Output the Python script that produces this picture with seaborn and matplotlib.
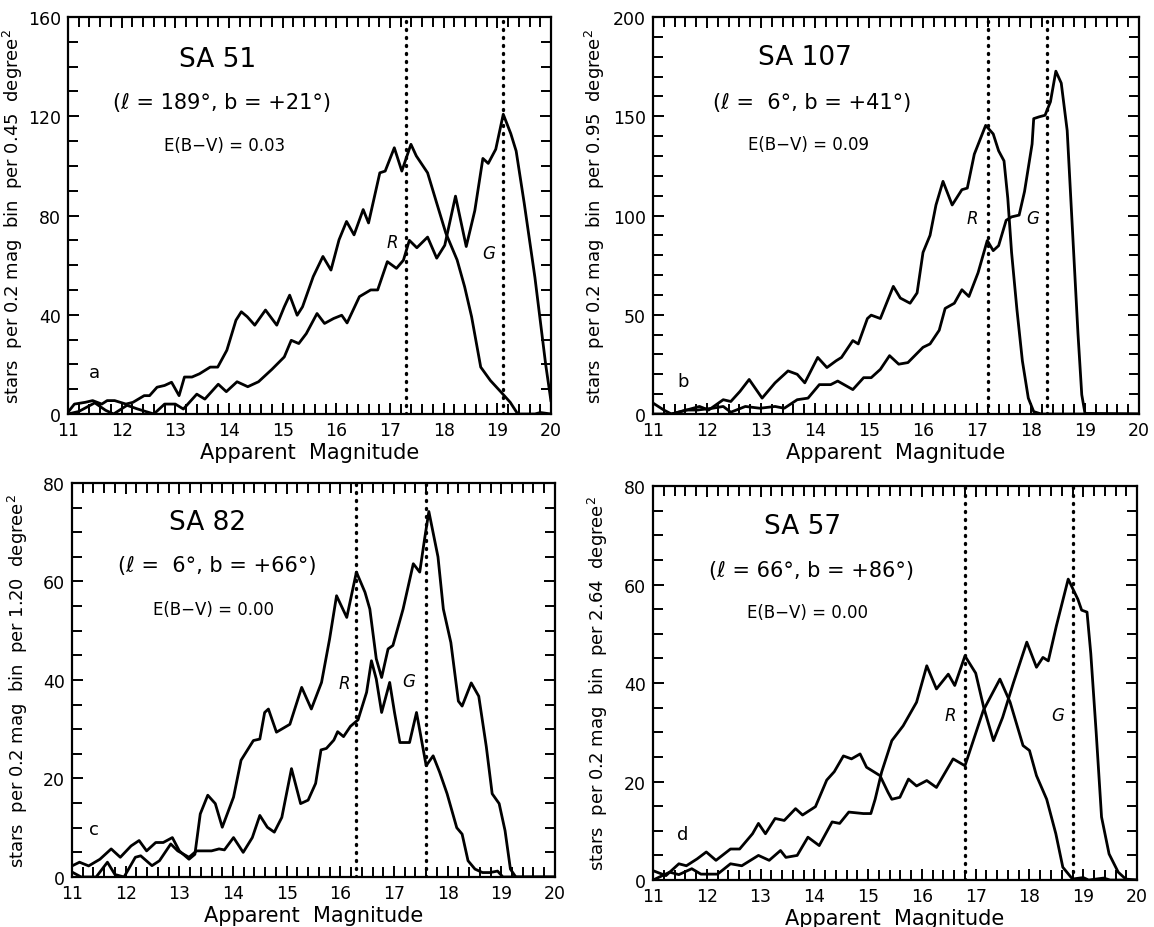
import matplotlib
matplotlib.use("Agg")
import matplotlib.pyplot as plt
import seaborn as sns
import pandas as pd
from matplotlib.ticker import MultipleLocator

# ---------------- data ----------------
# Panel a : SA 51
a_mag_1 = [11.0, 11.12, 11.32, 11.46, 11.63, 11.73, 11.87, 12.08, 12.21, 12.42, 12.52, 12.66, 12.8, 12.93,
           13.07, 13.17, 13.31, 13.45, 13.65, 13.79, 13.96, 14.13, 14.23, 14.34, 14.48, 14.68, 14.89, 15.03,
           15.13, 15.27, 15.37, 15.57, 15.75, 15.9, 16.05, 16.19, 16.33, 16.5, 16.6, 16.81, 16.91, 17.08,
           17.22, 17.39, 17.49, 17.7, 17.87, 18.04, 18.25, 18.39, 18.52, 18.69, 18.87, 19.07, 19.24, 19.38,
           19.7, 19.8, 20.0]
a_cnt_1 = [0.7, 4, 4.7, 5.4, 4, 5.4, 5.4, 4, 4.7, 7.4, 7.4, 10.8, 11.5, 12.8,
           7.4, 14.9, 14.9, 16.2, 18.9, 18.9, 25.7, 37.8, 41.2, 39.2, 35.8, 41.9, 35.8, 43.2,
           47.9, 39.8, 43.2, 55.4, 63.5, 58, 70.2, 77.6, 72.2, 82.4, 77, 97.2, 97.9, 107.3,
           97.9, 108.7, 104, 97.2, 85, 72.9, 62.1, 51.3, 39.2, 18.9, 13.5, 8.8, 4.7, 0,
           0, 0.6, 0]
a_mag_2 = [11.0, 11.2, 11.5, 11.7, 11.85, 12.1, 12.3, 12.6, 12.8, 13.0, 13.15, 13.4, 13.55, 13.8, 13.95,
           14.15, 14.35, 14.55, 14.8, 15.03, 15.16, 15.3, 15.44, 15.64, 15.78, 15.95, 16.1, 16.2, 16.43,
           16.64, 16.77, 16.95, 17.12, 17.25, 17.36, 17.5, 17.7, 17.87, 18.02, 18.22, 18.42, 18.58, 18.73,
           18.83, 18.97, 19.11, 19.25, 19.35, 19.5, 19.7, 19.9, 20.0]
a_cnt_2 = [0, 1, 4.5, 1.5, 0, 3.5, 2, 0, 4, 4, 2, 8, 6, 12, 9,
           13, 11, 13, 18, 23, 29.7, 28.4, 32.4, 40.5, 36.5, 38.5, 39.8, 36.7, 47.3,
           50, 50, 61.4, 58.7, 62, 70, 67, 71.3, 62.8, 68, 87.8, 67.5, 82, 103,
           101, 106.7, 120.8, 113, 106, 85, 55, 20, 5]

# Panel b : SA 107
b_mag_1 = [11.0, 11.2, 11.34, 11.62, 11.86, 12.03, 12.3, 12.44, 12.61, 12.78, 13.02, 13.26, 13.5, 13.67,
           13.81, 14.05, 14.22, 14.39, 14.49, 14.7, 14.8, 14.97, 15.04, 15.21, 15.45, 15.58, 15.76, 15.89,
           16.0, 16.13, 16.24, 16.37, 16.54, 16.72, 16.82, 16.95, 17.16, 17.3, 17.4, 17.5, 17.57, 17.64,
           17.74, 17.84, 17.95, 18.05, 18.19, 20.0]
b_cnt_1 = [5.5, 2, 0, 2, 3.8, 2, 7.2, 6.3, 11.4, 17.4, 8, 15.7, 21.7, 20,
           15.7, 28.5, 23.4, 26.8, 28.5, 37, 35.3, 48.1, 49.8, 48.1, 64.3, 58.4, 55.8, 61,
           81.4, 90, 105.3, 117.2, 105.3, 113, 113.8, 130.9, 145.4, 141.1, 132.6, 127.5, 108.7, 81.4,
           52.4, 26.8, 8, 1.2, 0, 0]
b_mag_2 = [11.0, 11.34, 11.62, 11.82, 12.1, 12.3, 12.44, 12.71, 12.98, 13.26, 13.43, 13.67, 13.87, 14.08,
           14.29, 14.42, 14.7, 14.9, 15.04, 15.21, 15.38, 15.55, 15.72, 16.0, 16.13, 16.3, 16.41, 16.58,
           16.72, 16.85, 17.02, 17.19, 17.3, 17.4, 17.54, 17.64, 17.78, 17.88, 18.02, 18.05, 18.15, 18.26,
           18.36, 18.46, 18.56, 18.67, 18.77, 18.87, 18.94, 19.0, 20.0]
b_cnt_2 = [0, 0, 2, 2, 2.9, 3.8, 0.9, 3.8, 2.9, 3.8, 2.9, 7.2, 8, 14.8,
           14.8, 16.6, 12.3, 18.3, 18.3, 22.5, 29.4, 25.1, 25.9, 33.6, 35.3, 42.2, 53.2, 55.8,
           62.6, 59.2, 71.2, 87.4, 82.3, 84.8, 97.6, 99.3, 100.2, 112.1, 136, 148.8, 149.7, 150.5,
           157.3, 172.7, 166.7, 142.8, 91.6, 40.4, 9.7, 0.3, 0]

# Panel c : SA 82
c_mag_1 = [11.0, 11.14, 11.31, 11.52, 11.73, 11.9, 12.1, 12.25, 12.39, 12.56, 12.7, 12.87, 13.0, 13.18,
           13.29, 13.39, 13.53, 13.67, 13.8, 14.01, 14.15, 14.38, 14.5, 14.59, 14.66, 14.81, 15.06, 15.28,
           15.46, 15.65, 15.8, 15.93, 16.12, 16.3, 16.46, 16.55, 16.67, 16.77, 16.89, 16.98, 17.17, 17.36,
           17.48, 17.57, 17.65, 17.82, 17.92, 18.06, 18.2, 18.27, 18.44, 18.58, 18.72, 18.83, 18.96, 19.07,
           19.17, 19.27, 20.0]
c_cnt_1 = [2.25, 3, 2.25, 3.6, 5.7, 4, 6.3, 7.4, 5.3, 7, 7, 8, 5.3, 3.6,
           4.6, 12.8, 16.6, 14.9, 10.1, 16.2, 23.7, 27.7, 28, 33.4, 34.1, 29.4, 31, 38.5,
           34.1, 39.5, 48.3, 57.1, 52.7, 61.9, 57.8, 54.4, 44.3, 40.5, 46.3, 47, 54.4, 63.6,
           61.9, 68.6, 74.2, 65, 54.4, 47.6, 35.7, 34.7, 39.4, 36.7, 26.5, 16.9, 14.9, 9.4,
           1.6, 0, 0]
c_mag_2 = [11.0, 11.17, 11.45, 11.66, 11.8, 11.97, 12.18, 12.28, 12.49, 12.63, 12.84, 12.97, 13.18, 13.32,
           13.6, 13.74, 13.84, 14.01, 14.19, 14.36, 14.5, 14.64, 14.77, 14.91, 15.09, 15.26, 15.4, 15.54,
           15.64, 15.74, 15.88, 15.95, 16.06, 16.19, 16.33, 16.49, 16.58, 16.67, 16.77, 16.92, 17.01, 17.11,
           17.29, 17.42, 17.51, 17.6, 17.73, 17.85, 17.99, 18.17, 18.27, 18.38, 18.51, 18.65, 18.79, 18.93,
           19.03, 20.0]
c_cnt_2 = [1, 0, 0, 3, 0.5, 0, 4, 4.3, 2.3, 3.3, 6.7, 5.3, 4, 5.3,
           5.3, 5.7, 5.5, 8, 5, 8, 12.5, 10.1, 9.1, 12.1, 22, 14.9, 15.6, 19,
           25.8, 26.1, 27.8, 29.5, 28.5, 30.6, 31.9, 37.5, 43.9, 40.2, 33.4, 39.5, 33.4, 27.3,
           27.3, 33.4, 28, 22.6, 24.6, 21.3, 16.9, 10, 8.7, 3.3, 1.6, 0.9, 0.9, 1.2,
           0, 0]

# Panel d : SA 57
d_mag_1 = [11.0, 11.24, 11.48, 11.62, 11.82, 11.99, 12.17, 12.44, 12.61, 12.85, 12.96, 13.09, 13.27, 13.44,
           13.65, 13.78, 14.02, 14.23, 14.37, 14.54, 14.69, 14.85, 14.97, 15.22, 15.37, 15.44, 15.59, 15.75,
           15.9, 16.09, 16.27, 16.58, 16.8, 17.14, 17.45, 17.64, 17.88, 18.0, 18.13, 18.32, 18.49, 18.62,
           18.8, 19.0, 19.1, 19.38, 19.5, 20.0]
d_cnt_1 = [1.9, 0.9, 3.3, 2.9, 4.3, 5.7, 4, 6.3, 6.3, 9.4, 11.5, 9.4, 12.5, 12.1,
           14.5, 13.2, 14.9, 20.3, 22, 25.2, 24.6, 25.6, 22.9, 21.2, 17.8, 16.4, 16.8, 20.5,
           19.1, 20.2, 18.8, 24.6, 23.2, 34.4, 40.8, 36.1, 27.3, 26.3, 21.2, 16.4, 9.4, 2.6,
           0.2, 0.5, 0, 0.4, 0, 0]
d_mag_2 = [11.0, 11.31, 11.48, 11.72, 11.89, 12.2, 12.44, 12.65, 12.96, 13.16, 13.37, 13.47, 13.68, 13.88,
           14.09, 14.33, 14.47, 14.64, 14.91, 15.05, 15.13, 15.25, 15.44, 15.65, 15.9, 16.09, 16.27, 16.49,
           16.61, 16.8, 17.0, 17.15, 17.33, 17.5, 17.7, 17.95, 18.13, 18.25, 18.35, 18.5, 18.72, 18.9,
           18.97, 19.07, 19.14, 19.24, 19.34, 19.48, 19.65, 19.79, 20.0]
d_cnt_2 = [0, 1.6, 1.1, 2.3, 1.2, 1.2, 3.3, 2.9, 5, 4, 6, 4.6, 5, 8.7,
           7, 11.8, 11.5, 13.8, 13.5, 13.5, 16.4, 21.9, 28.3, 31.3, 36.1, 43.5, 38.8, 41.8,
           39.5, 45.5, 42, 35, 28.3, 33, 40, 48.3, 43.2, 45.2, 44.5, 51.6, 61.1, 57,
           54.8, 54.4, 46, 30, 12.8, 5.3, 1.6, 0.2, 0]

panel_names = ["SA 51", "SA 107", "SA 82", "SA 57"]
coords = ["(ℓ = 189°, b = +21°)", "(ℓ =  6°, b = +41°)", "(ℓ =  6°, b = +66°)", "(ℓ = 66°, b = +86°)"]
reddening = ["E(B\u2212V) = 0.03", "E(B\u2212V) = 0.09", "E(B\u2212V) = 0.00", "E(B\u2212V) = 0.00"]
letters = ["a", "b", "c", "d"]
areas = ["0.45", "0.95", "1.20", "2.64"]
r_limits = [17.3, 17.2, 16.3, 16.8]
g_limits = [19.1, 18.3, 17.6, 18.8]
y_max = [160, 200, 80, 80]
y_major = [40, 50, 20, 20]
y_minor = [10, 10, 5, 5]
x_ticks = [11, 12, 13, 14, 15, 16, 17, 18, 19, 20]
r_label_pos = [(17.04, 69.5), (16.92, 98.5), (16.07, 39.4), (16.53, 33.6)]
g_label_pos = [(18.83, 64.8), (18.03, 98.5), (17.27, 39.8), (18.52, 33.6)]

curves = [
    (a_mag_1, a_cnt_1, a_mag_2, a_cnt_2),
    (b_mag_1, b_cnt_1, b_mag_2, b_cnt_2),
    (c_mag_1, c_cnt_1, c_mag_2, c_cnt_2),
    (d_mag_1, d_cnt_1, d_mag_2, d_cnt_2),
]

# ---------------- styling / layout ----------------
sns.set_theme(style="ticks")
plt.rcParams['font.family'] = ['DejaVu Sans']
plt.rcParams['axes.linewidth'] = 1.6
plt.rcParams['text.color'] = 'black'
plt.rcParams['axes.labelcolor'] = 'black'
plt.rcParams['xtick.color'] = 'black'
plt.rcParams['ytick.color'] = 'black'
plt.rcParams['axes.edgecolor'] = 'black'

fig = plt.figure(figsize=(11.54, 9.28), dpi=100)
rects = [
    [0.0589, 0.5528, 0.4186, 0.4278],
    [0.5659, 0.5528, 0.4211, 0.4278],
    [0.0624, 0.0539, 0.4185, 0.4246],
    [0.5659, 0.0506, 0.4194, 0.4246],
]
ylabel_x = [-0.088, -0.094, -0.086, -0.088]
text_pos = [
    [(0.31, 0.894), (0.318, 0.785), (0.325, 0.678), (0.054, 0.106)],
    [(0.312, 0.898), (0.327, 0.787), (0.319, 0.68), (0.061, 0.083)],
    [(0.281, 0.902), (0.30, 0.791), (0.292, 0.68), (0.046, 0.122)],
    [(0.309, 0.898), (0.328, 0.787), (0.32, 0.68), (0.061, 0.118)],
]

for i in range(4):
    ax = fig.add_axes(rects[i])
    m1, c1, m2, c2 = curves[i]
    df1 = pd.DataFrame({"mag": m1, "n": c1})
    df2 = pd.DataFrame({"mag": m2, "n": c2})
    for df in (df1, df2):
        sns.lineplot(data=df, x="mag", y="n", ax=ax, color="black", lw=2.0,
                     estimator=None, sort=False, solid_joinstyle="round",
                     solid_capstyle="round")
    for lim in (r_limits[i], g_limits[i]):
        ax.axvline(lim, color="black", lw=2.4, linestyle=(0, (0.3, 2.1)),
                   dash_capstyle="round")
    ax.set_xlim(11, 20)
    ax.set_ylim(0, y_max[i])
    ax.set_xticks(x_ticks)
    ax.xaxis.set_minor_locator(MultipleLocator(0.2))
    ax.yaxis.set_major_locator(MultipleLocator(y_major[i]))
    ax.yaxis.set_minor_locator(MultipleLocator(y_minor[i]))
    ax.tick_params(which="both", direction="in", top=True, right=True,
                   width=1.4, colors="black", labelsize=12.5)
    ax.tick_params(which="major", length=8)
    ax.tick_params(which="minor", length=7)
    ax.tick_params(axis="x", which="major", pad=5)
    ax.tick_params(axis="y", which="major", pad=5)
    ax.set_xlabel("Apparent  Magnitude", fontsize=15, labelpad=2)
    ax.set_ylabel(f"stars  per 0.2 mag  bin  per {areas[i]}  degree$^2$", fontsize=13)
    ax.yaxis.set_label_coords(ylabel_x[i], 0.5)
    (p1, p2, p3, p4) = text_pos[i]
    ax.text(*p1, panel_names[i], transform=ax.transAxes, fontsize=19,
            ha="center", va="center")
    ax.text(*p2, coords[i], transform=ax.transAxes, fontsize=15,
            ha="center", va="center")
    ax.text(*p3, reddening[i], transform=ax.transAxes, fontsize=12,
            ha="center", va="center")
    ax.text(*p4, letters[i], transform=ax.transAxes, fontsize=13,
            ha="center", va="center")
    ax.text(*r_label_pos[i], "R", fontsize=12, style="italic", ha="center", va="center")
    ax.text(*g_label_pos[i], "G", fontsize=12, style="italic", ha="center", va="center")

fig.savefig("out.png", dpi=100, facecolor="white")
